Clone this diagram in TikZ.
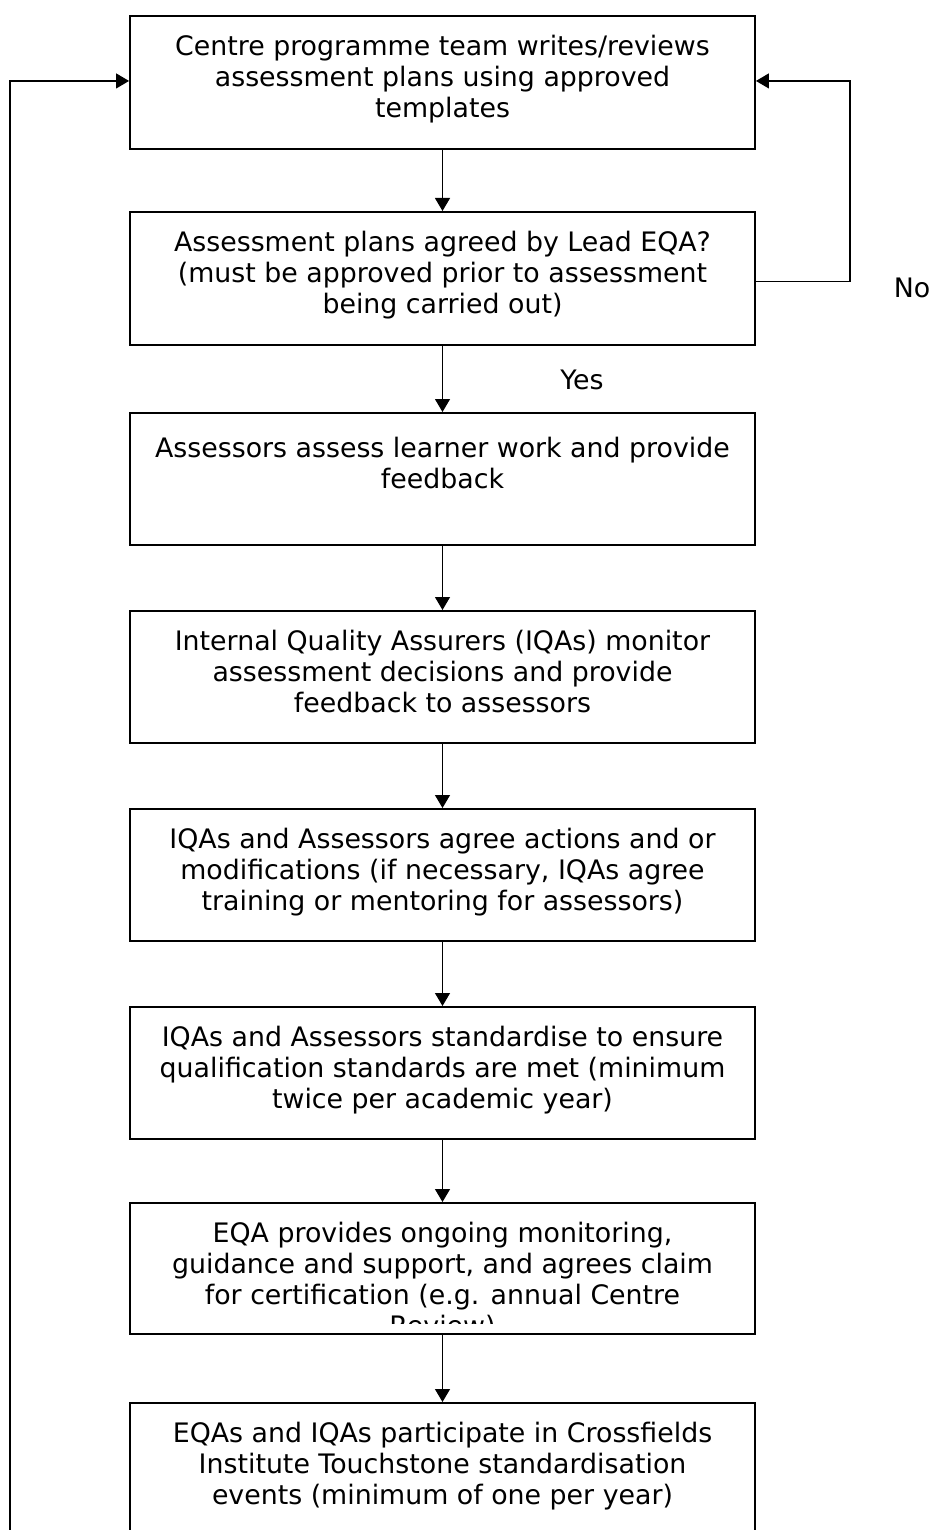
\documentclass[tikz,border=0pt]{standalone}
\usepackage{fontspec}
\setmainfont{DejaVu Sans}
\usetikzlibrary{arrows.meta}
\tikzset{
  box/.style={draw, line width=1.9pt, minimum width=625pt, minimum height=133pt, inner sep=0pt, anchor=north},
  txt/.style={anchor=base, inner sep=0pt, font=\fontsize{26.8}{31}\selectfont},
  conn/.style={line width=1.2pt},
  arr/.style={conn, -{Triangle[length=13pt,width=15pt]}},
  lbl/.style={inner sep=0pt, font=\fontsize{26.8}{31}\selectfont}
}
\newcommand{\boxlines}[1]{\begin{tabular}[t]{@{}c@{}}#1\end{tabular}}
\begin{document}
\begin{tikzpicture}[x=1pt, y=-1pt]
\useasboundingbox (0,0) rectangle (931,1530);
\clip (0,0) rectangle (931,1530);
\renewcommand{\arraystretch}{1}
\node[box] (b1) at (442.5,15) {};
\node[box] (b2) at (442.5,211) {};
\node[box, minimum height=132pt] (b3) at (442.5,412) {};
\node[box, minimum height=132pt] (b4) at (442.5,610) {};
\node[box, minimum height=132pt] (b5) at (442.5,808) {};
\node[box, minimum height=132pt] (b6) at (442.5,1006) {};
\node[box, minimum height=131pt] (b7) at (442.5,1202) {};
\node[box, minimum height=150pt] (b8) at (442.5,1402) {};

\node[txt] (t1) at (442.5,56) {\boxlines{Centre programme team writes/reviews\\assessment plans using approved\\templates}};
\node[txt] (t2) at (442.5,251.5) {\boxlines{Assessment plans agreed by Lead EQA?\\(must be approved prior to assessment\\being carried out)}};
\node[txt] (t3) at (442.5,457.5) {\boxlines{Assessors assess learner work and provide\\feedback}};
\node[txt] (t4) at (442.5,650.5) {\boxlines{Internal Quality Assurers (IQAs) monitor\\assessment decisions and provide\\feedback to assessors}};
\node[txt] (t5) at (442.5,848.5) {\boxlines{IQAs and Assessors agree actions and or\\modifications (if necessary, IQAs agree\\training or mentoring for assessors)}};
\node[txt] (t6) at (442.5,1046.5) {\boxlines{IQAs and Assessors standardise to ensure\\qualification standards are met (minimum\\twice per academic year)}};
\begin{scope}
\clip (131,1203) rectangle (754,1323.5);
\node[txt] (t7) at (442.5,1242.5) {\boxlines{EQA provides ongoing monitoring,\\guidance and support, and agrees claim\\for certification (e.g. annual Centre\\Review)}};
\end{scope}
\node[txt] (t8) at (442.5,1442) {\boxlines{EQAs and IQAs participate in Crossfields\\Institute Touchstone standardisation\\events (minimum of one per year)}};

\draw[arr] (b1.south) -- (b2.north);
\draw[arr] (b2.south) -- (b3.north);
\draw[arr] (b3.south) -- (b4.north);
\draw[arr] (b4.south) -- (b5.north);
\draw[arr] (b5.south) -- (b6.north);
\draw[arr] (b6.south) -- (b7.north);
\draw[arr] (b7.south) -- (b8.north);

\draw[arr] ([yshift=-3pt]b2.east) -- ++(94,0) coordinate (rc) |- ([yshift=1.5pt]b1.east);
\coordinate (lc) at (10,1560);
\draw[arr] (lc) |- ([yshift=1.5pt]b1.west);

\node[lbl] (no) at (912,288) {No};
\node[lbl] (yes) at (582,380) {Yes};
\end{tikzpicture}
\end{document}
